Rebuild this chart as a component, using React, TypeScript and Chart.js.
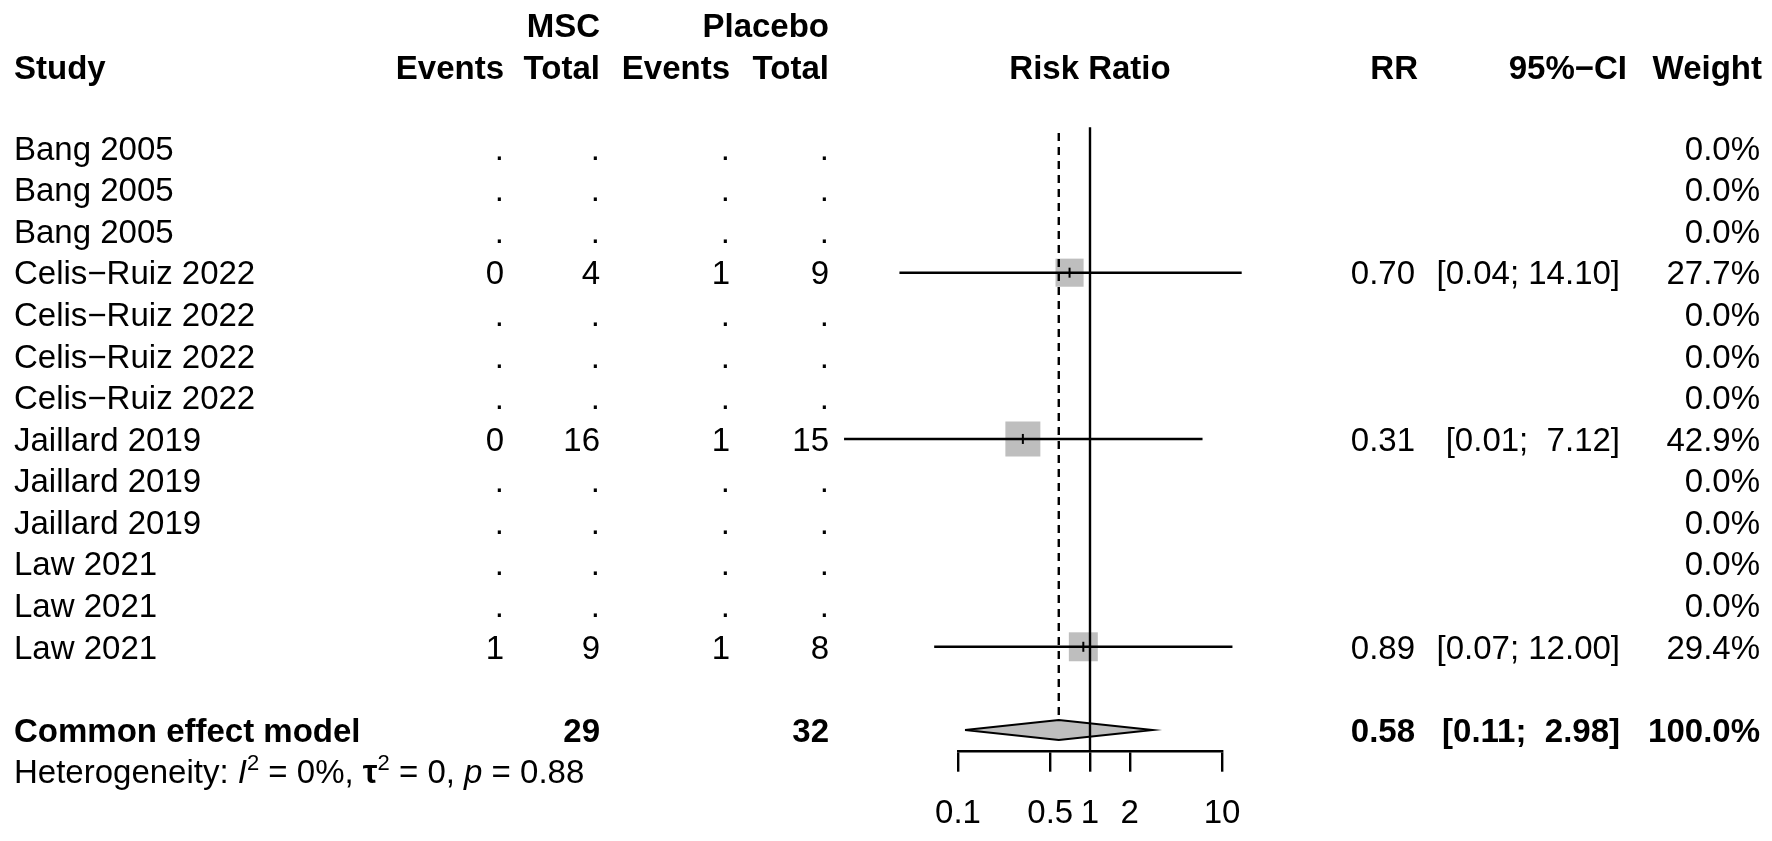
import React, { useEffect, useRef } from 'react';
import { Chart, registerables } from 'chart.js';

Chart.register(...registerables);

// ---------------- data ----------------
const studyLabels = [
  'Bang 2005', 'Bang 2005', 'Bang 2005',
  'Celis−Ruiz 2022', 'Celis−Ruiz 2022', 'Celis−Ruiz 2022', 'Celis−Ruiz 2022',
  'Jaillard 2019', 'Jaillard 2019', 'Jaillard 2019',
  'Law 2021', 'Law 2021', 'Law 2021',
];
const mscEvents: (number | null)[] = [null, null, null, 0, null, null, null, 0, null, null, null, null, 1];
const mscTotal: (number | null)[] = [null, null, null, 4, null, null, null, 16, null, null, null, null, 9];
const placeboEvents: (number | null)[] = [null, null, null, 1, null, null, null, 1, null, null, null, null, 1];
const placeboTotal: (number | null)[] = [null, null, null, 9, null, null, null, 15, null, null, null, null, 8];
const riskRatio: (number | null)[] = [null, null, null, 0.70, null, null, null, 0.31, null, null, null, null, 0.89];
const ciLower: (number | null)[] = [null, null, null, 0.036, null, null, null, 0.0137, null, null, null, null, 0.066];
const ciUpper: (number | null)[] = [null, null, null, 14.10, null, null, null, 7.12, null, null, null, null, 12.00];
const weights: number[] = [0, 0, 0, 27.7, 0, 0, 0, 42.9, 0, 0, 0, 0, 29.4];

const pooledLabel = 'Common effect model';
const pooledMscTotal = 29;
const pooledPlaceboTotal = 32;
const pooledRR = 0.58;
const pooledLower = 0.113;
const pooledUpper = 2.98;
const pooledWeight = 100.0;

const hetI2 = '0%';
const hetTau2 = '0';
const hetP = '0.88';

const tickValues = [0.1, 0.5, 1, 2, 10];
const tickLabels = ['0.1', '0.5', '1', '2', '10'];

// ---------------- layout / style ----------------
const FONT = '"Liberation Sans", Arial, Helvetica, sans-serif';
const FS = 33;
const CANVAS_W = 1772;
const CANVAS_H = 880;
const AREA_LEFT = 958;
const AREA_RIGHT = 1222;
const AREA_TOP = 127.2;
const AREA_BOTTOM = 750.7;
const TICK_LEN = 21;
const TICK_PAD = 22.2;
const AXIS_H = TICK_LEN + FS * 1.2 + 2 * TICK_PAD;
const LW = 2.4;
const GREY = '#bebebe';
const SQUARE_SCALE = 5.34;
const SUMMARY_ROW = 14;
const HET_ROW = 15;
const DIAMOND_HALF = 0.24;

const COL_STUDY = 14;
const COL_ME = 504;
const COL_MT = 600;
const COL_PE = 730;
const COL_PT = 829;
const COL_RR = 1415;
const COL_RR_H = 1418;
const COL_CI = 1620;
const COL_CI_H = 1627;
const COL_W = 1760;
const COL_W_H = 1762;

const fmtCI = (lo: number, hi: number) => `[${lo.toFixed(2)}; ${hi.toFixed(2).padStart(5, ' ')}]`;

const studyIdx = riskRatio.map((v, i) => (v == null ? -1 : i)).filter((i) => i >= 0);

function drawText(
  ctx: CanvasRenderingContext2D, s: string, x: number, yc: number,
  align: CanvasTextAlign, weight = 'normal', style = 'normal', size = FS,
) {
  ctx.font = `${style} ${weight} ${size}px ${FONT}`;
  ctx.textAlign = align;
  ctx.textBaseline = 'alphabetic';
  ctx.fillStyle = '#000';
  ctx.fillText(s, x, yc + 0.358 * size);
}

const textPlugin = {
  id: 'forestText',
  afterDraw(chart: any) {
    const ctx: CanvasRenderingContext2D = chart.ctx;
    const ys = chart.scales.y;
    const Y = (r: number) => ys.getPixelForValue(r);
    ctx.save();
    // headers
    const h1 = Y(-2.96);
    const h2 = Y(-1.95);
    drawText(ctx, 'MSC', COL_MT, h1, 'right', 'bold');
    drawText(ctx, 'Placebo', COL_PT, h1, 'right', 'bold');
    drawText(ctx, 'Study', COL_STUDY, h2, 'left', 'bold');
    drawText(ctx, 'Events', COL_ME, h2, 'right', 'bold');
    drawText(ctx, 'Total', COL_MT, h2, 'right', 'bold');
    drawText(ctx, 'Events', COL_PE, h2, 'right', 'bold');
    drawText(ctx, 'Total', COL_PT, h2, 'right', 'bold');
    drawText(ctx, 'Risk Ratio', (chart.chartArea.left + chart.chartArea.right) / 2, h2, 'center', 'bold');
    drawText(ctx, 'RR', COL_RR_H, h2, 'right', 'bold');
    drawText(ctx, '95%−CI', COL_CI_H, h2, 'right', 'bold');
    drawText(ctx, 'Weight', COL_W_H, h2, 'right', 'bold');

    const cell = (v: number | null) => (v == null ? '.' : String(v));
    studyLabels.forEach((lab, i) => {
      const y = Y(i);
      drawText(ctx, lab, COL_STUDY, y, 'left');
      drawText(ctx, cell(mscEvents[i]), COL_ME, y, 'right');
      drawText(ctx, cell(mscTotal[i]), COL_MT, y, 'right');
      drawText(ctx, cell(placeboEvents[i]), COL_PE, y, 'right');
      drawText(ctx, cell(placeboTotal[i]), COL_PT, y, 'right');
      const rr = riskRatio[i];
      if (rr != null) {
        drawText(ctx, rr.toFixed(2), COL_RR, y, 'right');
        drawText(ctx, fmtCI(ciLower[i] as number, ciUpper[i] as number), COL_CI, y, 'right');
      }
      drawText(ctx, weights[i].toFixed(1) + '%', COL_W, y, 'right');
    });

    // pooled row
    const ys2 = Y(SUMMARY_ROW);
    drawText(ctx, pooledLabel, COL_STUDY, ys2, 'left', 'bold');
    drawText(ctx, String(pooledMscTotal), COL_MT, ys2, 'right', 'bold');
    drawText(ctx, String(pooledPlaceboTotal), COL_PT, ys2, 'right', 'bold');
    drawText(ctx, pooledRR.toFixed(2), COL_RR, ys2, 'right', 'bold');
    drawText(ctx, fmtCI(pooledLower, pooledUpper), COL_CI, ys2, 'right', 'bold');
    drawText(ctx, pooledWeight.toFixed(1) + '%', COL_W, ys2, 'right', 'bold');

    // heterogeneity
    const yh = Y(HET_ROW);
    const base = yh + 0.358 * FS;
    const parts: { t: string; style?: string; weight?: string; sup?: boolean }[] = [
      { t: 'Heterogeneity: ' },
      { t: 'I', style: 'italic' },
      { t: '2', sup: true },
      { t: ` = ${hetI2}, ` },
      { t: 'τ', weight: 'bold' },
      { t: '2', sup: true },
      { t: ` = ${hetTau2}, ` },
      { t: 'p', style: 'italic' },
      { t: ` = ${hetP}` },
    ];
    let x = COL_STUDY;
    ctx.textAlign = 'left';
    ctx.textBaseline = 'alphabetic';
    ctx.fillStyle = '#000';
    for (const p of parts) {
      const size = p.sup ? 22 : FS;
      ctx.font = `${p.style || 'normal'} ${p.weight || 'normal'} ${size}px ${FONT}`;
      ctx.fillText(p.t, x, p.sup ? base - 13 : base);
      x += ctx.measureText(p.t).width;
    }
    ctx.restore();
  },
};

export default function App() {
  const ref = useRef<HTMLCanvasElement>(null);
  useEffect(() => {
    const canvas = ref.current;
    if (!canvas) return;

    const ciDatasets = studyIdx.map((i) => ({
      label: 'ci' + i,
      data: [{ x: ciLower[i] as number, y: i }, { x: ciUpper[i] as number, y: i }],
      showLine: true,
      borderColor: '#000',
      borderWidth: LW,
      pointRadius: 0,
      clip: false as any,
      order: 3,
    }));

    const datasets: any[] = [
      {
        label: 'ref',
        data: [{ x: 1, y: -0.5 }, { x: 1, y: 14.5 }],
        showLine: true,
        borderColor: '#000',
        borderWidth: LW,
        pointRadius: 0,
        clip: false,
        order: 0,
      },
      {
        label: 'pooled',
        data: [{ x: pooledRR, y: -0.36 }, { x: pooledRR, y: SUMMARY_ROW - DIAMOND_HALF }],
        showLine: true,
        borderColor: '#000',
        borderWidth: LW,
        borderDash: [8, 6],
        pointRadius: 0,
        clip: false,
        order: 0,
      },
      {
        label: 'diamond',
        data: [
          { x: pooledLower, y: SUMMARY_ROW },
          { x: pooledRR, y: SUMMARY_ROW - DIAMOND_HALF },
          { x: pooledUpper, y: SUMMARY_ROW },
          { x: pooledRR, y: SUMMARY_ROW + DIAMOND_HALF },
          { x: pooledLower, y: SUMMARY_ROW },
        ],
        showLine: true,
        fill: 'shape',
        backgroundColor: GREY,
        borderColor: '#000',
        borderWidth: 2,
        pointRadius: 0,
        tension: 0,
        clip: false,
        order: 1,
      },
      {
        label: 'est',
        data: studyIdx.map((i) => ({ x: riskRatio[i] as number, y: i })),
        showLine: false,
        pointStyle: 'line',
        pointRotation: 90,
        pointRadius: 5,
        pointBorderWidth: 2,
        pointBorderColor: '#000',
        clip: false,
        order: 2,
      },
      ...ciDatasets,
      {
        label: 'squares',
        data: studyIdx.map((i) => ({ x: riskRatio[i] as number, y: i, w: weights[i] })),
        showLine: false,
        pointStyle: 'rect',
        pointRadius: (c: any) => (Math.sqrt(c.raw ? c.raw.w : 0) * SQUARE_SCALE) / Math.SQRT2,
        pointBackgroundColor: GREY,
        pointBorderWidth: 0,
        pointBorderColor: GREY,
        clip: false,
        order: 4,
      },
    ];

    const chart = new Chart(canvas, {
      type: 'scatter',
      data: { datasets },
      options: {
        responsive: false,
        animation: false,
        events: [],
        layout: {
          padding: {
            left: AREA_LEFT,
            right: CANVAS_W - AREA_RIGHT,
            top: AREA_TOP,
            bottom: CANVAS_H - AREA_BOTTOM - AXIS_H,
          },
        },
        plugins: {
          legend: { display: false },
          tooltip: { enabled: false },
        },
        scales: {
          x: {
            type: 'logarithmic',
            position: 'bottom',
            min: tickValues[0],
            max: tickValues[tickValues.length - 1],
            afterBuildTicks: (scale: any) => {
              scale.ticks = tickValues.map((v) => ({ value: v }));
            },
            ticks: {
              autoSkip: false,
              maxRotation: 0,
              minRotation: 0,
              padding: TICK_PAD,
              color: '#000',
              font: { family: FONT, size: FS, lineHeight: 1.2 },
              callback: (v: any) => {
                const k = tickValues.indexOf(Number(v));
                return k >= 0 ? tickLabels[k] : '';
              },
            },
            grid: {
              display: true,
              drawOnChartArea: false,
              drawTicks: true,
              tickLength: TICK_LEN,
              color: '#000',
              lineWidth: LW,
              tickWidth: LW,
            },
            border: { display: true, color: '#000', width: LW },
          },
          y: {
            type: 'linear',
            display: false,
            reverse: true,
            min: -0.5,
            max: 14.5,
          },
        },
      } as any,
      plugins: [textPlugin],
    });
    return () => chart.destroy();
  }, []);

  return (
    <div style={{ position: 'fixed', left: 0, top: 0, width: CANVAS_W, height: 841, overflow: 'hidden', background: '#fff' }}>
      <canvas ref={ref} width={CANVAS_W} height={CANVAS_H} style={{ display: 'block', width: CANVAS_W, height: CANVAS_H }} />
    </div>
  );
}
